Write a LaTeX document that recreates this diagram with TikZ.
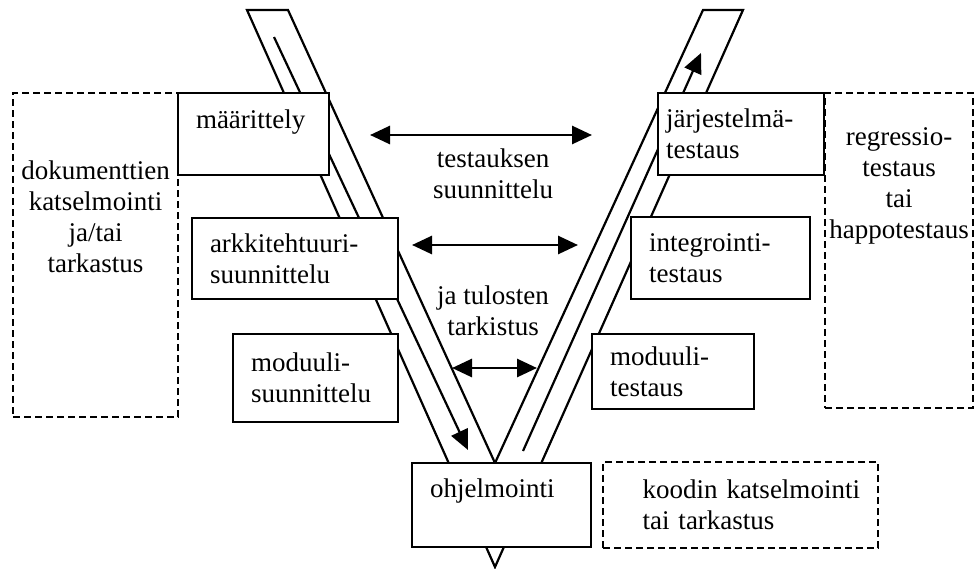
\documentclass[tikz,border=0pt]{standalone}
\usepackage{fontspec}
\setmainfont{Liberation Serif}
\usetikzlibrary{arrows.meta}

% push a line up inside its box by giving it extra depth
\newcommand{\extradepth}[1]{\rule[-#1]{0pt}{#1}}

\tikzset{
  stage/.style={draw,fill=white,line width=1.4pt,align=left,inner xsep=9pt,inner ysep=0pt},
  review/.style={draw,fill=white,line width=1.1pt,dash pattern=on 3.5pt off 2pt,align=center,inner xsep=2pt,inner ysep=0pt},
}

\begin{document}
\begin{tikzpicture}[x=0.5pt,y=-0.5pt,>={Triangle[length=10pt,width=9pt]},
  font=\fontsize{13.5}{15.5}\selectfont]
\useasboundingbox (0,0) rectangle (974,568);

% the V and the flow down and up its arms
\draw[line width=1.1pt,line join=miter] (495,567) -- (247,10) -- (288,10) -- (495,463)
  -- (703,10) -- (743,10) -- cycle;
\coordinate (down0) at (274,37);
\coordinate (down1) at (468,450);
\coordinate (up0) at (523,451);
\coordinate (up1) at (701,53);
\draw[->,line width=1.1pt] (down0) -- (down1);
\draw[->,line width=1.1pt] (up0) -- (up1);

% reviews
\node[review,minimum width=82.5pt,minimum height=162pt] (docrev) at (95.5,255)
  {dokumenttien\\katselmointi\\ja/tai\\tarkastus\extradepth{38pt}};
\node[review,minimum width=74pt,minimum height=157.5pt] (regr) at (899,250.5)
  {regressio-\\testaus\\tai\\happotestaus\extradepth{67pt}};
\node[review,align=left,inner xsep=6.75pt,text width=124pt,minimum height=43pt] (coderev) at (740.5,505)
  {\hspace*{13pt}koodin katselmointi\\\hspace*{13pt}tai tarkastus};

% design side
\node[stage,minimum height=41pt,text width=57.5pt] (spec) at (253.5,134)
  {määrittely\extradepth{15pt}};
\node[stage,minimum height=40.5pt,text width=85pt] (arch) at (295,258.5)
  {arkkitehtuuri-\\suunnittelu};
\node[stage,minimum height=44pt,text width=64.5pt] (moddes) at (315.5,378)
  {moduuli-\\suunnittelu};

% coding
\node[stage,minimum height=42pt,text width=71.5pt] (code) at (501.5,505)
  {ohjelmointi\extradepth{17pt}};

% testing side
\node[stage,inner xsep=4pt,minimum height=41pt,text width=75pt] (systest) at (741,134)
  {järjestelmä-\\testaus};
\node[stage,minimum height=41pt,text width=71.5pt] (inttest) at (720.5,258)
  {integrointi-\\testaus};
\node[stage,minimum height=37.5pt,text width=63pt] (modtest) at (673,371.5)
  {moduuli-\\testaus};

% test planning between the levels
\coordinate (l1) at (370,135);
\coordinate (r1) at (592,135);
\coordinate (l2) at (412,245);
\coordinate (r2) at (578,245);
\coordinate (l3) at (452,368);
\coordinate (r3) at (537,368);
\draw[<->,line width=1.4pt] (l1) -- (r1);
\draw[<->,line width=1.4pt] (l2) -- (r2);
\draw[<->,line width=1.4pt] (l3) -- (r3);

\node[align=center] (plan) at (493,174) {testauksen\\suunnittelu};
\node[align=center] (check) at (493,311) {ja tulosten\\tarkistus};
\end{tikzpicture}
\end{document}
